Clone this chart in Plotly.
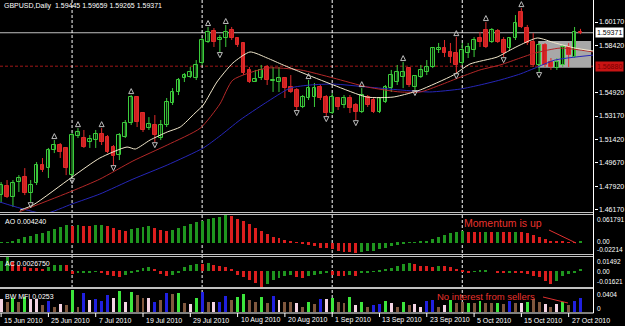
import plotly.graph_objects as go

FONT = "Liberation Sans"
W, H = 625, 326
PLOT_R_PX = 593.5          # right price-axis position (px)

# ---------------- data ----------------
date_labels = ["15 Jun 2010", "25 Jun 2010", "7 Jul 2010", "19 Jul 2010", "29 Jul 2010",
               "10 Aug 2010", "20 Aug 2010", "1 Sep 2010", "13 Sep 2010", "23 Sep 2010",
               "5 Oct 2010", "15 Oct 2010", "27 Oct 2010"]
date_label_bars = [0, 8, 16, 24, 32, 40, 48, 56, 64, 72, 80, 88, 96]
month_start_bars = [12, 34, 56, 78]

opens = [1.4728, 1.4795, 1.4713, 1.4825, 1.4862, 1.4743, 1.4818, 1.4952, 1.4929, 1.5064,
         1.5101, 1.5079, 1.4877, 1.5168, 1.5153, 1.5123, 1.5138, 1.5183, 1.5160, 1.5086,
         1.5026, 1.5160, 1.5265, 1.5458, 1.5339, 1.5227, 1.5250, 1.5153, 1.5250, 1.5414,
         1.5496, 1.5600, 1.5607, 1.5600, 1.5712, 1.5868, 1.5950, 1.5883, 1.5898, 1.5957,
         1.5898, 1.5861, 1.5660, 1.5570, 1.5600, 1.5682, 1.5578, 1.5570, 1.5600, 1.5533,
         1.5511, 1.5384, 1.5451, 1.5458, 1.5533, 1.5458, 1.5339, 1.5451, 1.5399, 1.5451,
         1.5399, 1.5347, 1.5458, 1.5436, 1.5347, 1.5421, 1.5525, 1.5570, 1.5607, 1.5674,
         1.5533, 1.5607, 1.5645, 1.5682, 1.5808, 1.5823, 1.5794, 1.5786, 1.5712, 1.5786,
         1.5808, 1.5898, 1.5957, 1.5868, 1.5950, 1.5883, 1.5823, 1.5898, 1.6092, 1.5972,
         1.5868, 1.5697, 1.5846, 1.5719, 1.5674, 1.5697, 1.5831, 1.5756, 1.59445]
highs = [1.4825, 1.4840, 1.4840, 1.4877, 1.4929, 1.4840, 1.4974, 1.5004, 1.5079, 1.5138,
         1.5116, 1.5086, 1.5190, 1.5227, 1.5213, 1.5175, 1.5213, 1.5227, 1.5175, 1.5101,
         1.5190, 1.5287, 1.5473, 1.5466, 1.5347, 1.5309, 1.5324, 1.5287, 1.5451, 1.5525,
         1.5600, 1.5637, 1.5682, 1.5734, 1.5898, 1.5980, 1.5972, 1.5920, 1.5995, 1.5980,
         1.5905, 1.5868, 1.5682, 1.5660, 1.5697, 1.5697, 1.5682, 1.5682, 1.5607, 1.5622,
         1.5525, 1.5473, 1.5585, 1.5563, 1.5548, 1.5473, 1.5488, 1.5458, 1.5473, 1.5473,
         1.5414, 1.5525, 1.5473, 1.5451, 1.5458, 1.5548, 1.5660, 1.5697, 1.5719, 1.5682,
         1.5622, 1.5697, 1.5734, 1.5831, 1.5861, 1.5883, 1.5861, 1.5905, 1.5861, 1.5861,
         1.5905, 1.5943, 1.6017, 1.5972, 1.5965, 1.5905, 1.5905, 1.6069, 1.6121, 1.5995,
         1.5935, 1.5861, 1.5861, 1.5749, 1.5749, 1.5846, 1.5861, 1.5980, 1.59659]
lows = [1.4669, 1.4706, 1.4639, 1.4751, 1.4728, 1.4676, 1.4803, 1.4900, 1.4855, 1.5041,
        1.5004, 1.4877, 1.4855, 1.5153, 1.5079, 1.5079, 1.5079, 1.5101, 1.5041, 1.4952,
        1.4989, 1.5153, 1.5250, 1.5235, 1.5198, 1.5213, 1.5123, 1.5138, 1.5235, 1.5399,
        1.5473, 1.5570, 1.5600, 1.5585, 1.5697, 1.5861, 1.5831, 1.5794, 1.5831, 1.5883,
        1.5831, 1.5622, 1.5563, 1.5570, 1.5585, 1.5548, 1.5496, 1.5496, 1.5451, 1.5488,
        1.5362, 1.5376, 1.5436, 1.5384, 1.5436, 1.5317, 1.5332, 1.5362, 1.5376, 1.5339,
        1.5287, 1.5339, 1.5384, 1.5339, 1.5339, 1.5414, 1.5496, 1.5548, 1.5525, 1.5533,
        1.5511, 1.5600, 1.5622, 1.5674, 1.5786, 1.5756, 1.5712, 1.5637, 1.5697, 1.5749,
        1.5756, 1.5831, 1.5823, 1.5861, 1.5861, 1.5756, 1.5808, 1.5883, 1.5972, 1.5846,
        1.5682, 1.5645, 1.5682, 1.5660, 1.5660, 1.5682, 1.5682, 1.5749, 1.59265]
closes = [1.4803, 1.4713, 1.4818, 1.4855, 1.4743, 1.4803, 1.4952, 1.4915, 1.5064, 1.5101,
          1.5049, 1.4929, 1.5175, 1.5198, 1.5086, 1.5145, 1.5183, 1.5123, 1.5049, 1.5019,
          1.5175, 1.5265, 1.5458, 1.5272, 1.5213, 1.5257, 1.5175, 1.5250, 1.5421, 1.5496,
          1.5585, 1.5622, 1.5645, 1.5697, 1.5883, 1.5943, 1.5868, 1.5898, 1.5943, 1.5898,
          1.5846, 1.5637, 1.5570, 1.5592, 1.5660, 1.5585, 1.5585, 1.5600, 1.5525, 1.5496,
          1.5384, 1.5458, 1.5525, 1.5525, 1.5451, 1.5339, 1.5458, 1.5384, 1.5451, 1.5376,
          1.5347, 1.5473, 1.5399, 1.5347, 1.5451, 1.5533, 1.5622, 1.5645, 1.5645, 1.5548,
          1.5615, 1.5660, 1.5682, 1.5823, 1.5823, 1.5786, 1.5756, 1.5697, 1.5808, 1.5831,
          1.5883, 1.5868, 1.5831, 1.5957, 1.5868, 1.5786, 1.5898, 1.6010, 1.5980, 1.5861,
          1.5697, 1.5846, 1.5697, 1.5682, 1.5719, 1.5831, 1.5771, 1.5943, 1.59371]

fractal_up_bars = [9, 13, 17, 22, 35, 38, 52, 61, 68, 77, 82, 88]
fractal_down_bars = [5, 12, 19, 26, 37, 50, 55, 60, 70, 77, 85, 91]

# Alligator-style moving averages (bar position, price)
lips_x = [3.2, 5.4, 12, 16.7, 21.3, 22.7, 25.2, 28.1, 30.3, 32.8, 34.2, 36.5, 39.2, 42.1, 45,
          47.7, 50.6, 56.2, 61.9, 66.3, 69.2, 70.9, 76.5, 79.3, 83.9, 86.1, 87.8, 90.7, 93.7,
          97.1, 100.2]
lips_y = [1.4616, 1.4654, 1.4862, 1.5004, 1.5086, 1.5071, 1.5138, 1.5198, 1.5235, 1.5339,
          1.5399, 1.5570, 1.5712, 1.5794, 1.5749, 1.5697, 1.5645, 1.5548, 1.5458, 1.5458,
          1.5488, 1.5511, 1.5622, 1.5704, 1.5756, 1.5808, 1.5846, 1.5898, 1.5861, 1.5823,
          1.5801]
teeth_x = [3, 12, 16.7, 22.3, 28.1, 33.7, 37, 39.2, 45, 50.6, 56.2, 61.9, 67.5, 70.9, 74.3,
           77.7, 81, 84.4, 87.8, 90.3, 94.6, 100.2]
teeth_y = [1.4602, 1.4758, 1.4847, 1.4982, 1.5101, 1.5227, 1.5406, 1.5585, 1.5674, 1.5660,
           1.5600, 1.5533, 1.5496, 1.5496, 1.5548, 1.5607, 1.5660, 1.5697, 1.5749, 1.5786,
           1.5823, 1.5794]
jaw_x = [-0.2, 3.2, 7.4, 12, 16.7, 22.3, 28.1, 34.2, 37, 40.4, 44.7, 48.9, 52.3, 56.2, 61.9,
         67.5, 72.5, 77.7, 81, 84.4, 87.8, 90.3, 93.7, 100.2]
jaw_y = [1.4676, 1.4631, 1.4590, 1.4662, 1.4736, 1.4847, 1.4952, 1.5079, 1.5168, 1.5287,
         1.5414, 1.5525, 1.5548, 1.5555, 1.5533, 1.5511, 1.5496, 1.5518, 1.5548, 1.5585,
         1.5630, 1.5674, 1.5734, 1.5771]

ao = [0.0007, 0.0015, 0.0044, 0.0081, 0.0125, 0.0155, 0.0191, 0.0228, 0.0265, 0.0302,
      0.0346, 0.0390, 0.0383, 0.0397, 0.0375, 0.0368, 0.0397, 0.0405, 0.0368, 0.0324,
      0.0287, 0.0272, 0.0302, 0.0339, 0.0353, 0.0375, 0.0324, 0.0287, 0.0272, 0.0287,
      0.0324, 0.0383, 0.0420, 0.0471, 0.0486, 0.0530, 0.0545, 0.0571, 0.0618, 0.0600,
      0.0530, 0.0486, 0.0412, 0.0339, 0.0265, 0.0199, 0.0140, 0.0103, 0.0074, 0.0029,
      0.0015, -0.0004, -0.0044, -0.0074, -0.0103, -0.0118, -0.0132, -0.0169, -0.0191, -0.0199,
      -0.0221, -0.0199, -0.0184, -0.0169, -0.0140, -0.0103, -0.0074, -0.0044, -0.0022, 0.0003,
      0.0015, 0.0029, 0.0052, 0.0088, 0.0140, 0.0177, 0.0213, 0.0236, 0.0258, 0.0250,
      0.0243, 0.0236, 0.0250, 0.0243, 0.0250, 0.0243, 0.0236, 0.0250, 0.0243, 0.0221,
      0.0184, 0.0140, 0.0088, 0.0052, 0.0037, 0.0026, 0.0018, 0.0011, 0.00424]

ac = [0.0110, 0.0149, 0.0100, 0.0070, 0.0050, 0.0035, 0.0030, 0.0028, 0.0045, 0.0062,
      0.0069, 0.0062, -0.0024, -0.0017, -0.0014, -0.0007, 0.0003, -0.0007, -0.0035, -0.0052,
      -0.0059, -0.0042, -0.0017, 0.0007, 0.0035, 0.0042, 0.0028, -0.0024, -0.0052, -0.0040,
      -0.0007, 0.0045, 0.0069, 0.0078, 0.0076, 0.0090, 0.0062, 0.0052, 0.0045, 0.0028,
      -0.0035, -0.0059, -0.0093, -0.0118, -0.0162, -0.0128, -0.0093, -0.0069, -0.0048, -0.0042,
      -0.0059, -0.0069, -0.0048, -0.0035, -0.0024, -0.0017, -0.0042, -0.0045, -0.0047, -0.0038,
      -0.0045, -0.0014, -0.0007, -0.0003, 0.0007, 0.0021, 0.0035, 0.0055, 0.0080, 0.0090,
      0.0076, 0.0059, 0.0058, 0.0042, 0.0059, 0.0058, 0.0042, 0.0024, 0.0007, -0.0010,
      0.0001, 0.0007, 0.0010, 0.0000, -0.0010, -0.0017, -0.0010, -0.0017, -0.0021, -0.0028,
      -0.0045, -0.0062, -0.0097, -0.0135, -0.0097, -0.0052, -0.0028, -0.0010, 0.002675]

bw_mfi = [0.0233, 0.0190, 0.0251, 0.0177, 0.0282, 0.0233, 0.0233, 0.0129, 0.0202, 0.0098,
          0.0141, 0.0129, 0.0404, 0.0098, 0.0343, 0.0220, 0.0233, 0.0202, 0.0312, 0.0251,
          0.0386, 0.0190, 0.0373, 0.0312, 0.0263, 0.0251, 0.0190, 0.0220, 0.0343, 0.0324,
          0.0343, 0.0171, 0.0141, 0.0251, 0.0361, 0.0190, 0.0177, 0.0177, 0.0300, 0.0220,
          0.0282, 0.0324, 0.0220, 0.0177, 0.0269, 0.0171, 0.0300, 0.0220, 0.0190, 0.0190,
          0.0171, 0.0098, 0.0190, 0.0153, 0.0239, 0.0233, 0.0251, 0.0177, 0.0159, 0.0282,
          0.0129, 0.0177, 0.0098, 0.0129, 0.0141, 0.0202, 0.0171, 0.0098, 0.0190, 0.0129,
          0.0141, 0.0098, 0.0202, 0.0220, 0.0098, 0.0129, 0.0220, 0.0159, 0.0190, 0.0159,
          0.0159, 0.0202, 0.0171, 0.0159, 0.0159, 0.0147, 0.0202, 0.0159, 0.0159, 0.0190,
          0.0233, 0.0190, 0.0141, 0.0098, 0.0141, 0.0190, 0.0129, 0.0202, 0.0253]
# g = green (MFI up, vol up), b = brown (fade), u = blue (fake), p = pink (squat)
bw_kind = "pbgbgppbubpbgbupuuupgpgbbpububgbpg" \
          "ubpuubggbbgbupbbpbgbupgbbgpgbuugpbgb" \
          "ppuubpgbbgbgbbgbubpgbbpbpgbuu"

price_ticks = [1.46170, 1.47920, 1.49670, 1.51420, 1.53170, 1.54920, 1.58420, 1.60170]
price_range = [1.4602, 1.6181]
ao_range = [-0.02214, 0.061791]
ac_range = [-0.01621, 0.01492]
bw_range = [0.0, 0.0404]
x_range = [-0.19, 100.2]

bid_price = 1.59371
alert_price = 1.56880
box_bars = [90.85, 99.8]
box_prices = [1.5677, 1.5876]

# ---------------- helpers ----------------
def py(p):
    return 1 - p / H

def px(p):
    return p / W

bars = list(range(len(opens)))
fig = go.Figure()

# ---------- main chart: candles ----------
GREEN = "#3ccc3c"
RED = "#e02a2a"
wx = {True: [], False: []}
wy = {True: [], False: []}
for i in bars:
    up = closes[i] >= opens[i]
    wx[up] += [i, i, None]
    wy[up] += [lows[i], highs[i], None]
for up, col in ((True, GREEN), (False, RED)):
    fig.add_trace(go.Scatter(x=wx[up], y=wy[up], mode="lines", line=dict(color=col, width=1),
                             xaxis="x", yaxis="y", hoverinfo="skip"))

body_base = [min(o, c) for o, c in zip(opens, closes)]
body_len = [max(abs(c - o), 0.00012) for o, c in zip(opens, closes)]
is_up = [c >= o for o, c in zip(opens, closes)]
fig.add_trace(go.Bar(x=bars, y=body_len, base=body_base, width=0.64,
                     marker=dict(color=["#000000" if u else "#c81e1e" for u in is_up],
                                 line=dict(color=[GREEN if u else RED for u in is_up], width=1)),
                     xaxis="x", yaxis="y", hoverinfo="skip"))

# moving averages
fig.add_trace(go.Scatter(x=jaw_x, y=jaw_y, mode="lines", line=dict(color="#2626b8", width=1, shape="spline", smoothing=0.6),
                         xaxis="x", yaxis="y", hoverinfo="skip"))
fig.add_trace(go.Scatter(x=teeth_x, y=teeth_y, mode="lines", line=dict(color="#b42828", width=1, shape="spline", smoothing=0.6),
                         xaxis="x", yaxis="y", hoverinfo="skip"))
fig.add_trace(go.Scatter(x=lips_x, y=lips_y, mode="lines", line=dict(color="#f2e8cc", width=1, shape="spline", smoothing=0.6),
                         xaxis="x", yaxis="y", hoverinfo="skip"))

# fractals
fig.add_trace(go.Scatter(x=fractal_up_bars, y=[highs[i] + 0.0048 for i in fractal_up_bars], mode="markers",
                         marker=dict(symbol="arrow-up-open", size=5, color="#bdbdbd", line=dict(color="#bdbdbd", width=1)),
                         xaxis="x", yaxis="y", hoverinfo="skip"))
fig.add_trace(go.Scatter(x=fractal_down_bars, y=[lows[i] - 0.0042 for i in fractal_down_bars], mode="markers",
                         marker=dict(symbol="arrow-down-open", size=5, color="#bdbdbd", line=dict(color="#bdbdbd", width=1)),
                         xaxis="x", yaxis="y", hoverinfo="skip"))

# ---------- AO ----------
AO_G, AO_R = "#1f961f", "#dc1e1e"
ao_col = [AO_G] + [AO_G if ao[i] > ao[i - 1] else AO_R for i in bars[1:]]
fig.add_trace(go.Bar(x=bars, y=ao, width=0.5, marker=dict(color=ao_col, line=dict(width=0)),
                     xaxis="x2", yaxis="y2", hoverinfo="skip"))
# ---------- AC ----------
ac_col = [AO_G] + [AO_G if ac[i] > ac[i - 1] else AO_R for i in bars[1:]]
fig.add_trace(go.Bar(x=bars, y=ac, width=0.5, marker=dict(color=ac_col, line=dict(width=0)),
                     xaxis="x3", yaxis="y3", hoverinfo="skip"))
# ---------- BW MFI ----------
kind_col = {"g": "#3ce63c", "b": "#80583e", "u": "#2020e0", "p": "#f4d4e4"}
fig.add_trace(go.Bar(x=bars, y=bw_mfi, width=0.5, marker=dict(color=[kind_col[k] for k in bw_kind], line=dict(width=0)),
                     xaxis="x4", yaxis="y4", hoverinfo="skip"))

# ---------------- layout ----------------
x_common = dict(range=x_range, domain=[0, px(PLOT_R_PX)], showgrid=False, zeroline=False,
                showticklabels=False, ticks="", showline=False, fixedrange=True)
y_hidden = dict(showgrid=False, zeroline=False, showticklabels=False, ticks="", showline=False,
                fixedrange=True)

shapes = []
annotations = []

def hline_px(ypx, color="#c0c0c0", width=1, x0=0, x1=PLOT_R_PX):
    shapes.append(dict(type="line", xref="paper", yref="paper", x0=px(x0), x1=px(x1),
                       y0=py(ypx), y1=py(ypx), line=dict(color=color, width=width), layer="above"))

# grey box object
shapes.append(dict(type="rect", xref="x", yref="y", x0=box_bars[0], x1=box_bars[1],
                   y0=box_prices[0], y1=box_prices[1], fillcolor="#a8a8a8", line=dict(width=0), layer="below"))
# bid line & alert line
shapes.append(dict(type="line", xref="paper", yref="y", x0=0, x1=px(PLOT_R_PX), y0=bid_price, y1=bid_price,
                   line=dict(color="#c0c0c0", width=1), layer="below"))
shapes.append(dict(type="line", xref="paper", yref="y", x0=0, x1=px(PLOT_R_PX), y0=alert_price, y1=alert_price,
                   line=dict(color="#a01818", width=1, dash="3px,2px"), layer="below"))
# period separators
for b in month_start_bars:
    shapes.append(dict(type="line", xref="x", yref="paper", x0=b, x1=b, y0=py(313), y1=1,
                       line=dict(color="#ffffff", width=1, dash="3px,2px"), layer="below"))
# panel separators
for ypx in (212.5, 214.5, 254.5, 256.5, 287.5, 288.5):
    hline_px(ypx)
hline_px(313, color="#ffffff")
# right axis line
shapes.append(dict(type="line", xref="paper", yref="paper", x0=px(PLOT_R_PX), x1=px(PLOT_R_PX),
                   y0=py(313), y1=1, line=dict(color="#ffffff", width=1)))
# date ticks
for b in date_label_bars:
    shapes.append(dict(type="line", xref="x4", yref="paper", x0=b, x1=b, y0=py(313), y1=py(317),
                       line=dict(color="#ffffff", width=1)))
# note lines
shapes.append(dict(type="line", xref="paper", yref="paper", x0=px(549), y0=py(230), x1=px(576), y1=py(243),
                   line=dict(color="#e03030", width=1)))
shapes.append(dict(type="line", xref="paper", yref="paper", x0=px(543), y0=py(297), x1=px(568), y1=py(303),
                   line=dict(color="#e03030", width=1)))

def text_px(t, xpx, ypx, size=7, color="#ffffff", bg=None, xanchor="left"):
    a = dict(text=t, xref="paper", yref="paper", x=px(xpx), y=py(ypx), xanchor=xanchor, yanchor="middle",
             showarrow=False, font=dict(family=FONT, size=size, color=color))
    if bg:
        a.update(bgcolor=bg, borderpad=1)
    annotations.append(a)

text_px("GBPUSD,Daily  1.59445 1.59659 1.59265 1.59371", 2, 6)
text_px("AO 0.004240", 3, 221)
text_px("AC 0.0026750", 3, 263)
text_px("BW MFI 0.0253", 3, 296)
# sub-window scale labels
text_px("0.061791", 595, 219.5, size=6.5)
text_px("0.00", 595, 241.5, size=6.5)
text_px("-0.02214", 595, 249.5, size=6.5)
text_px("0.01492", 595, 261.5, size=6.5)
text_px("0.00", 595, 271, size=6.5)
text_px("-0.01621", 595, 281.5, size=6.5)
text_px("0.0404", 595, 294.5, size=6.5)
text_px("0", 595, 308, size=6.5)
# notes
text_px("Momentum is up", 462, 223, size=10.5, color="#e8322d")
text_px("No interest from sellers", 435, 296, size=9.5, color="#e8322d")

# price labels
annotations.append(dict(text="%.5f" % bid_price, xref="paper", yref="y", x=px(594.5), y=bid_price, xanchor="left",
                        yanchor="middle", showarrow=False, bgcolor="#ffffff", borderpad=1,
                        font=dict(family=FONT, size=7, color="#000000")))
annotations.append(dict(text="%.5f" % alert_price, xref="paper", yref="y", x=px(594.5), y=alert_price, xanchor="left",
                        yanchor="middle", showarrow=False, bgcolor="#c81414", borderpad=1,
                        font=dict(family=FONT, size=7, color="#7a0000")))
# dates
for b, t in zip(date_label_bars, date_labels):
    annotations.append(dict(text=t, xref="x4", yref="paper", x=b, y=py(320), xanchor="left", yanchor="middle",
                            xshift=1, showarrow=False, font=dict(family=FONT, size=7, color="#ffffff")))

fig.update_layout(
    width=W, height=H, margin=dict(l=0, r=0, t=0, b=0),
    paper_bgcolor="#000000", plot_bgcolor="#000000", showlegend=False,
    barmode="overlay", bargap=0,
    xaxis=dict(x_common, anchor="y"),
    xaxis2=dict(x_common, anchor="y2", matches="x"),
    xaxis3=dict(x_common, anchor="y3", matches="x"),
    xaxis4=dict(x_common, anchor="y4", matches="x"),
    yaxis=dict(domain=[py(212), 1], range=price_range, side="right", anchor="free", position=px(PLOT_R_PX),
               tickvals=price_ticks, ticktext=["%.5f" % v for v in price_ticks], ticks="outside", ticklen=3,
               tickcolor="#ffffff", tickfont=dict(family=FONT, size=7, color="#ffffff"),
               showgrid=False, zeroline=False, showline=False, fixedrange=True),
    yaxis2=dict(y_hidden, domain=[py(253), py(215)], range=ao_range),
    yaxis3=dict(y_hidden, domain=[py(287), py(257)], range=ac_range),
    yaxis4=dict(y_hidden, domain=[py(312), py(290)], range=bw_range),
    shapes=shapes, annotations=annotations,
)

fig.write_html("out.html")
